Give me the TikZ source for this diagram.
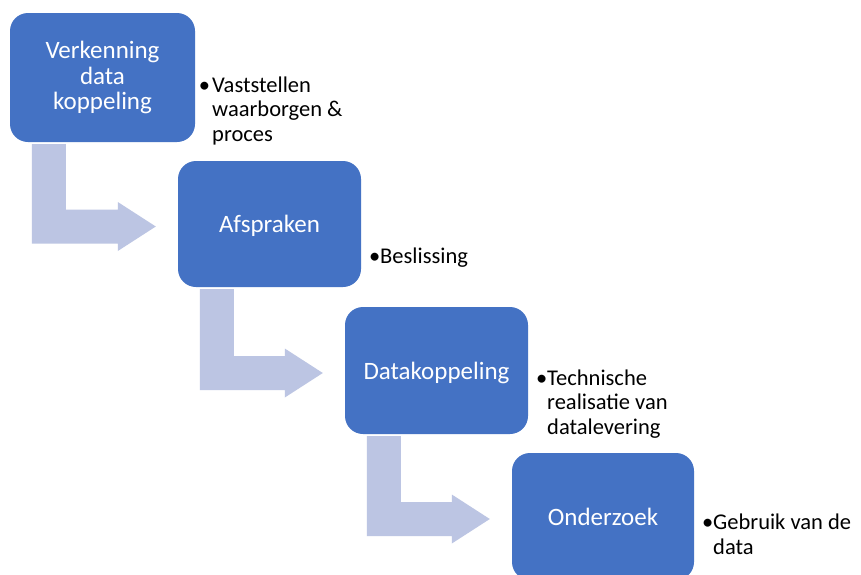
\documentclass[tikz,border=0pt]{standalone}
\usepackage{fontspec}
\setmainfont{Carlito}
\usetikzlibrary{calc}
\definecolor{boxblue}{HTML}{4472C4}
\definecolor{arrowblue}{HTML}{BCC5E3}
\newcommand\bentarrow[2]{%
  \path[flowarrow] let \p1=(#1.south west), \p2=(#2.west) in
    (\x1+22pt,\y1-2pt) -- (\x1+56pt,\y1-2pt) -- (\x1+56pt,\y2+14.5pt)
    -- (\x2-60pt,\y2+14.5pt) -- (\x2-60pt,\y2+22pt) -- (\x2-22pt,\y2-2.5pt)
    -- (\x2-60pt,\y2-27pt) -- (\x2-60pt,\y2-19.5pt) -- (\x1+22pt,\y2-19.5pt) -- cycle;}
\begin{document}
\begin{tikzpicture}[x=1pt,y=1pt,
  stepbox/.style={fill=boxblue, rounded corners=18pt, text=white, align=center,
    inner sep=0pt, font=\fontsize{25}{25.5}\selectfont},
  onelinebox/.style={stepbox, text depth=0pt},
  bullettext/.style={anchor=base west, align=left, inner sep=0pt,
    font=\fontsize{22.5}{24.5}\selectfont, text=black},
  flowarrow/.style={fill=arrowblue}]
\useasboundingbox (0,0) rectangle (861,-574);
\fill[white] (0,0) rectangle (861,-574);
\node[stepbox, minimum width=185pt, minimum height=129pt] (b1) at (102.5,-77.5) {Verkenning\\data\\koppeling};
\node[onelinebox, minimum width=183pt, minimum height=126pt] (b2) at (269.5,-224) {Afspraken};
\node[onelinebox, minimum width=183pt, minimum height=127pt] (b3) at (436.5,-370.5) {Datakoppeling};
\node[onelinebox, minimum width=182pt, minimum height=127pt] (b4) at (603,-516.5) {Onderzoek};
\bentarrow{b1}{b2}
\bentarrow{b2}{b3}
\bentarrow{b3}{b4}
\node[bullettext] (t1) at (212,-141) {\llap{•\hspace{2pt}}Vaststellen\\waarborgen \&\\proces};
\node[bullettext] (t2) at (380,-263) {\llap{•}Beslissing};
\node[bullettext] (t3) at (547,-434) {\llap{•}Technische\\realisatie van\\datalevering};
\node[bullettext] (t4) at (713,-554) {\llap{•}Gebruik van de\\data};
\end{tikzpicture}
\end{document}
